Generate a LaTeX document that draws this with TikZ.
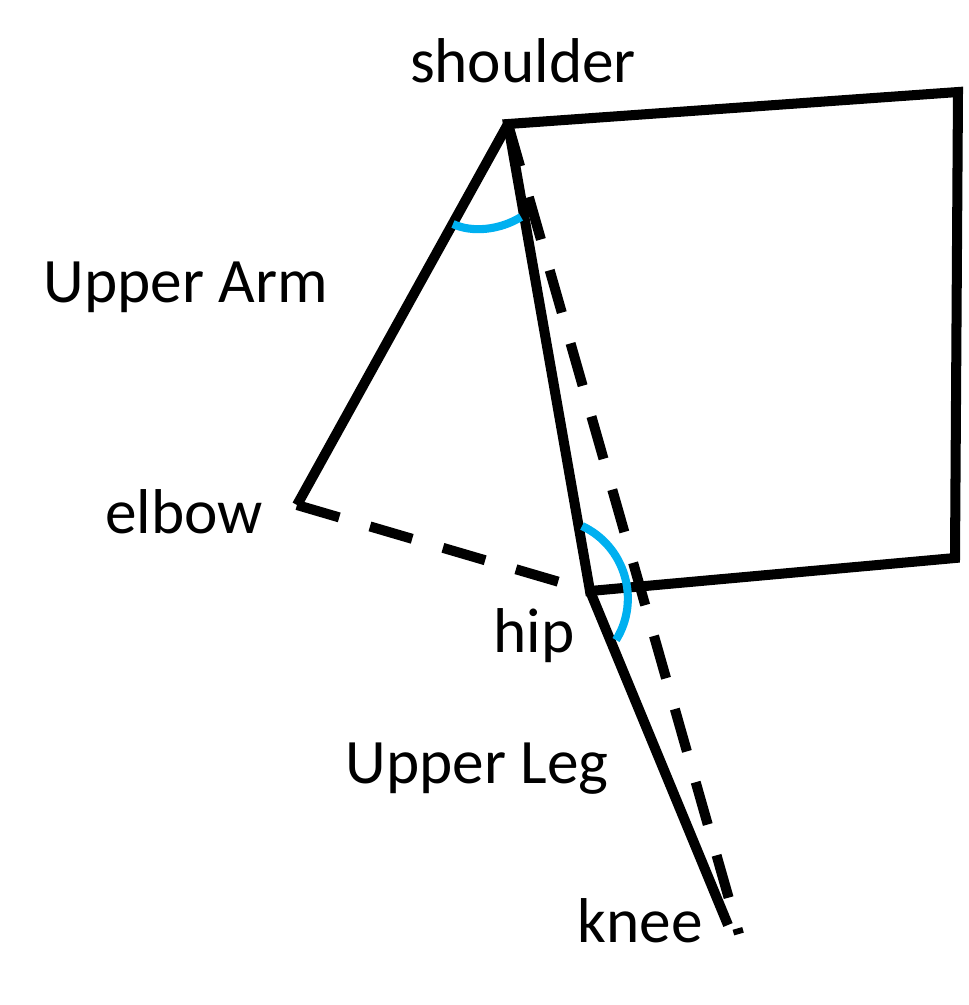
\documentclass[tikz,border=0pt]{standalone}
\usepackage{fontspec}
\setmainfont{Carlito}
\definecolor{arcblue}{HTML}{00B0F0}
\begin{document}
\begin{tikzpicture}[x=0.01cm, y=-0.01cm, line width=2.85pt]
    \useasboundingbox (0,0) rectangle (969,1005);
    \tikzset{lbl/.style={anchor=base, inner sep=0pt, font=\fontsize{18}{22}\selectfont},
             refline/.style={dash pattern=on 0.44cm off 0.32cm},
             anglearc/.style={arcblue, line width=2.3pt}}
    % 关节与躯干
    \coordinate (shoulder) at (508,124);
    \coordinate (elbow) at (297,505);
    \coordinate (hip) at (590,591);
    \coordinate (knee) at (728,925);
    \coordinate (kneeref) at (739,934);
    \coordinate (backtop) at (958,92);
    \coordinate (backbot) at (955,558);

    \node[lbl] (tshoulder) at (523,82) {shoulder};
    \node[lbl] (tarm) at (186,302) {Upper Arm};
    \node[lbl] (telbow) at (184,533) {elbow};
    \node[lbl] (thip) at (534,652) {hip};
    \node[lbl] (tleg) at (477,783) {Upper Leg};
    \node[lbl] (tknee) at (640,942) {knee};

    \draw (shoulder) -- (backtop) -- (backbot) -- (hip) -- cycle;
    \draw (elbow) -- (shoulder);
    \draw (hip) -- (knee);

    % 参考线
    \draw[refline] (elbow) -- (hip);
    \draw[refline] (shoulder) -- (kneeref);

    % 角度
    \draw[anglearc] (453,224) .. controls (472,233) and (500,230) .. (521,217);
    \draw[anglearc] (582,526) .. controls (625,546) and (641,600) .. (616,640);
\end{tikzpicture}
\end{document}
